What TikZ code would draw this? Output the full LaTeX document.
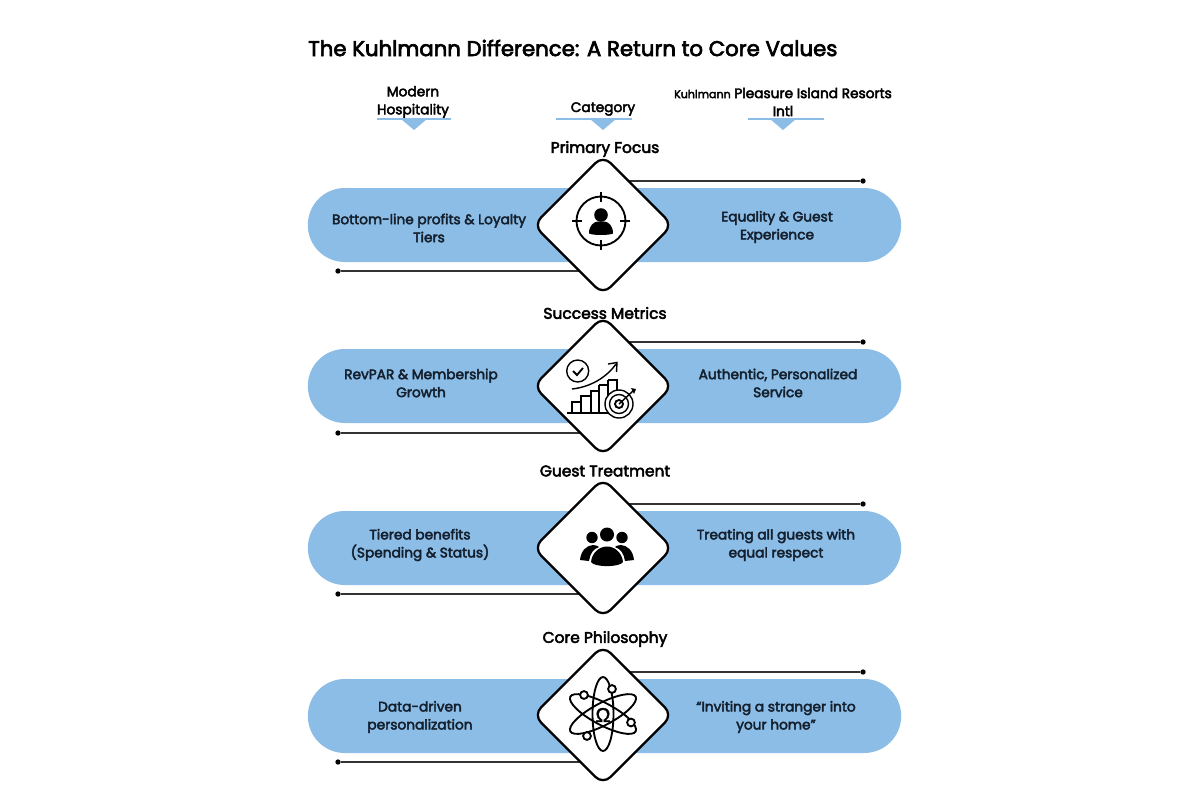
\documentclass[tikz,border=0pt]{standalone}
\usepackage{fontspec}
\setmainfont{Poppins}[RawFeature={embolden=3.2}]
\newfontfamily\omegafont{Liberation Sans}[RawFeature={embolden=1.5}]
\usetikzlibrary{shapes.geometric,backgrounds}
\definecolor{pillblue}{HTML}{8CBDE6}
\definecolor{inktext}{HTML}{14202E}
\tikzset{
  x=0.75pt,y=-0.75pt,
  pillbox/.style={draw=none,fill=pillblue,minimum width=445pt,minimum height=55.5pt,rounded corners=27.7pt,inner sep=0pt},
  gem/.style={diamond,draw=black,line width=1.7pt,fill=white,minimum width=105pt,minimum height=105pt,rounded corners=8pt,inner sep=0pt,aspect=1},
  cellt/.style={align=center,font=\fontsize{10.3}{13.5}\selectfont,text=inktext,inner sep=0pt},
  headt/.style={align=center,font=\fontsize{10.3}{13.5}\selectfont,text=black,inner sep=0pt},
  catt/.style={align=center,font=\fontsize{11.6}{13.5}\selectfont,text=black,inner sep=0pt},
  rule/.style={draw=black!80,line width=1.3pt},
  dotend/.style={circle,fill=black,minimum size=4pt,inner sep=0pt},
  hdrline/.style={draw=pillblue,line width=0.8pt},
  tri/.style={fill=pillblue,draw=none},
  ico/.style={draw=black,line width=1.4pt},
  icothin/.style={draw=black,line width=1.05pt},
}
\begin{document}
\begin{tikzpicture}
\useasboundingbox (0,0) rectangle (1200,800);

\node[anchor=west,inner sep=0pt,font=\fontsize{15.95}{20}\selectfont] (title) at (308,48) {The Kuhlmann Difference: A Return to Core Values};

\node[headt] (h1) at (413,102) {Modern\\Hospitality};
\node[headt] (h2) at (603,109) {Category};
\node[headt] (h3) at (783,102) {{\fontsize{8.3}{13.5}\selectfont Kuhlmann} Pleasure Island Resorts\\Intl};
\draw[hdrline] (377,119) -- (451,119);
\draw[hdrline] (556,119) -- (632,119);
\draw[hdrline] (748,119) -- (824,119);
\fill[tri] (401,119) -- (427,119) -- (414,130) -- cycle;
\fill[tri] (590,119) -- (616,119) -- (603,130) -- cycle;
\fill[tri] (770,119) -- (796,119) -- (783,130) -- cycle;

\node[catt] (c1) at (605,149) {Primary Focus};
\node[catt] (c2) at (605,313) {Success Metrics};
\node[catt] (c3) at (605,471) {Guest Treatment};
\node[catt] (c4) at (605,639) {Core Philosophy};

% Row nodes
\foreach \n/\yy in {1/225,2/386,3/548,4/716}{
  \node[pillbox] (pill\n) at (604.5,\yy) {};
}
\node[gem] (d1) at (603,225) {};
\node[gem] (d2) at (603,386) {};
\node[gem] (d3) at (603,548) {};
\node[gem] (d4) at (603,715) {};
\node[dotend] (r1) at (863,181) {};
\node[dotend] (l1) at (338,271) {};
\node[dotend] (r2) at (863,342) {};
\node[dotend] (l2) at (338,433) {};
\node[dotend] (r3) at (863,504) {};
\node[dotend] (l3) at (338,594) {};
\node[dotend] (r4) at (863,672) {};
\node[dotend] (l4) at (338,762) {};

% connectors hidden behind the diamonds
\begin{scope}[on background layer]
\fill[white] (0,0) rectangle (1200,800);
\foreach \n in {1,2,3,4}{
  \draw[rule] (r\n) -- (d\n.center |- r\n);
  \draw[rule] (l\n) -- (d\n.center |- l\n);
}
\end{scope}

% texts
\node[cellt] (t1l) at (429,228) {Bottom-line profits \& Loyalty\\Tiers};
\node[cellt] (t1r) at (777,227) {Equality \& Guest\\Experience};
\node[cellt] (t2l) at (421,383) {RevPAR \& Membership\\Growth};
\node[cellt] (t2r) at (778,383) {Authentic, Personalized\\Service};
\node[cellt] (t3l) at (420,545) {Tiered benefits\\(Spending \& Status)};
\node[cellt] (t3r) at (776,545) {Treating all guests with\\equal respect};
\node[cellt] (t4l) at (420,717) {Data-driven\\personalization};
\node[cellt] (t4r) at (776,717) {“Inviting a stranger into\\your home”};

% icon 1: target with person
\begin{scope}[shift={(601,221)}]
  \draw[ico] (0,0) circle (24.5);
  \foreach \a in {0,90,180,270}{\draw[ico,rotate=\a] (19,0) -- (29,0);}
  \fill (0,-6) circle (6.8);
  \fill (-12,12.5) .. controls (-12,4) and (-7,1) .. (-3.5,0.5) -- (3.5,0.5) .. controls (7,1) and (12,4) .. (12,12.5) .. controls (8,14.5) and (-8,14.5) .. (-12,12.5) -- cycle;
\end{scope}

% icon 2: growth chart
\begin{scope}
  \draw[icothin] (577.7,371) circle (11);
  \draw[ico] (573,371) -- (577,375) -- (583,368);
  \draw[icothin] (572,389) .. controls (590,387) and (606,378) .. (616,364);
  \draw[icothin] (608,364) -- (617,362.5) -- (616.5,372);
  \draw[icothin] (567,413) -- (615,413);
  \draw[icothin] (572,413) -- (572,402) -- (581,402) -- (581,413);
  \draw[icothin] (581,402) -- (581,396) -- (591,396) -- (591,413);
  \draw[icothin] (591,396) -- (591,391) -- (599,391) -- (599,413);
  \draw[icothin] (599,385) -- (608,385) -- (608,396);
  \draw[icothin] (599,385) -- (599,391);
  \draw[icothin] (608,380) -- (617,380) -- (617,390);
  \draw[icothin] (608,380) -- (608,385);
  \draw[icothin,fill=white] (619,404) circle (14);
  \draw[icothin] (619,404) circle (9.5);
  \draw[ico] (619,404) circle (4);
  \draw[icothin] (619,404) -- (634,390);
  \fill (631,388) -- (636,389) -- (634,394) -- cycle;
\end{scope}

% icon 3: group of people
\begin{scope}
  \fill (607,534.5) circle (7);
  \fill (592,537.5) circle (5.7);
  \fill (622,537.5) circle (5.7);
  \fill (580,560) .. controls (581,550) and (587,545.5) .. (593,545) .. controls (596,545) and (598,546) .. (599,547) .. controls (593,549) and (590,554) .. (589,561) -- cycle;
  \fill (634,560) .. controls (633,550) and (627,545.5) .. (621,545) .. controls (618,545) and (616,546) .. (615,547) .. controls (621,549) and (624,554) .. (625,561) -- cycle;
  \fill (591,562) .. controls (592,552) and (600,546.5) .. (607,546.5) .. controls (614,546.5) and (622,552) .. (623,562) .. controls (620,567.5) and (594,567.5) .. (591,562) -- cycle;
\end{scope}

% icon 4: atom
\begin{scope}[shift={(603,714)}]
  \draw[ico] (0,0) ellipse (10.5 and 37);
  \draw[ico,rotate=62] (0,0) ellipse (11 and 37);
  \draw[ico,rotate=-62] (0,0) ellipse (11 and 37);
  \draw[ico,fill=white] (-19,-19) circle (3.9);
  \draw[ico,fill=white] (9,-25) circle (3.9);
  \draw[ico,fill=white] (28,8.5) circle (3.9);
  \draw[ico,fill=white] (-16,22) circle (3.9);
  \node[inner sep=0pt,font=\omegafont\fontsize{15}{15}\selectfont] (om) at (0,1) {Ω};
\end{scope}
\end{tikzpicture}
\end{document}
